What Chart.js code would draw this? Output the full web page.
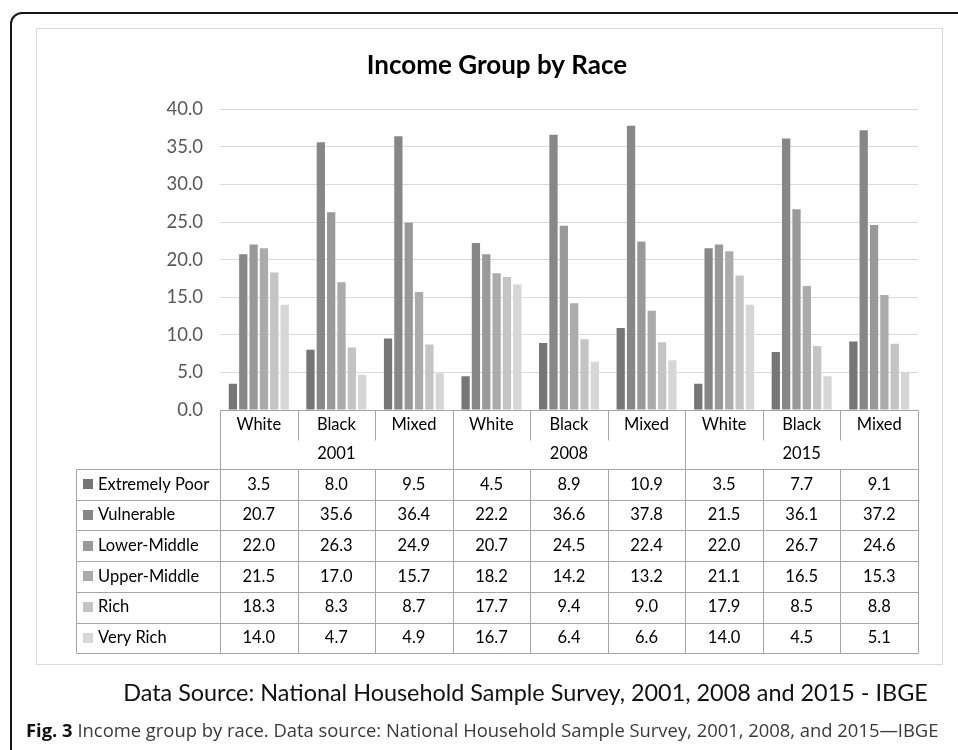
<!DOCTYPE html>
<html>
<head>
<meta charset="utf-8">
<script src="https://cdn.jsdelivr.net/npm/chart.js@4.4.1/dist/chart.umd.min.js"></script>
<style>
  html, body { margin: 0; padding: 0; background: #fff; }
  body { width: 958px; height: 750px; position: relative; overflow: hidden; }
  .frame { position: absolute; left: 10px; top: 12px; width: 1000px; height: 800px;
           border: 2px solid #161616; border-radius: 12px; box-sizing: border-box; }
  .plotbox { position: absolute; left: 36px; top: 28px; width: 907px; height: 637px;
             border: 1px solid #d9d9d9; box-sizing: border-box; }
  #chart { position: absolute; left: 0; top: 0; }
  .source { position: absolute; left: 0; width: 1051px; top: 678px; text-align: center;
            font-family: Lato, sans-serif; font-size: 23.4px; color: #111; }
  .caption { position: absolute; left: 26px; top: 717px; white-space: nowrap;
             font-family: "Open Sans", sans-serif; font-size: 18.4px; color: #3a3a3a; }
  .caption b { color: #111; }
</style>
</head>
<body>
<div class="frame"></div>
<div class="plotbox"></div>
<canvas id="chart" width="958" height="750"></canvas>
<div class="source">Data Source: National Household Sample Survey, 2001, 2008 and 2015 - IBGE</div>
<div class="caption"><b>Fig. 3</b> Income group by race. Data source: National Household Sample Survey, 2001, 2008, and 2015—IBGE</div>
<script>
const races = ['White', 'Black', 'Mixed', 'White', 'Black', 'Mixed', 'White', 'Black', 'Mixed'];
const years = ['2001', '2008', '2015'];
const groups = ['Extremely Poor', 'Vulnerable', 'Lower-Middle', 'Upper-Middle', 'Rich', 'Very Rich'];

const extremelyPoor = [3.5, 8.0, 9.5, 4.5, 8.9, 10.9, 3.5, 7.7, 9.1];
const vulnerable    = [20.7, 35.6, 36.4, 22.2, 36.6, 37.8, 21.5, 36.1, 37.2];
const lowerMiddle   = [22.0, 26.3, 24.9, 20.7, 24.5, 22.4, 22.0, 26.7, 24.6];
const upperMiddle   = [21.5, 17.0, 15.7, 18.2, 14.2, 13.2, 21.1, 16.5, 15.3];
const rich          = [18.3, 8.3, 8.7, 17.7, 9.4, 9.0, 17.9, 8.5, 8.8];
const veryRich      = [14.0, 4.7, 4.9, 16.7, 6.4, 6.6, 14.0, 4.5, 5.1];

const seriesValues = [extremelyPoor, vulnerable, lowerMiddle, upperMiddle, rich, veryRich];
const seriesColors = ['#767676', '#878787', '#999999', '#ababab', '#c4c4c4', '#d6d6d6'];

const lineColor = '#a6a6a6';
const tableFont = '16.5px Lato, sans-serif';

// draws the data table under the plot, lined up with the x scale
const dataTable = {
  id: 'dataTable',
  afterDraw(chart) {
    const ctx = chart.ctx;
    const area = chart.chartArea;
    const x = chart.scales.x;
    const catW = (area.right - area.left) / races.length;
    const edge = i => x.getPixelForValue(i) - catW / 2;
    const top = area.bottom;
    const raceBottom = top + 30;
    const rowTop = top + 59;
    const rowH = 30.7;
    const tableBottom = rowTop + rowH * groups.length;
    const tableLeft = 76;

    ctx.save();
    ctx.strokeStyle = lineColor;
    ctx.lineWidth = 1;
    const line = (x1, y1, x2, y2) => {
      ctx.beginPath();
      ctx.moveTo(Math.round(x1) + 0.5, Math.round(y1) + 0.5);
      ctx.lineTo(Math.round(x2) + 0.5, Math.round(y2) + 0.5);
      ctx.stroke();
    };

    line(area.left, top, area.right, top);
    for (let r = 0; r <= groups.length; r++) {
      const y = rowTop + r * rowH;
      line(tableLeft, y, area.right, y);
    }
    line(tableLeft, rowTop, tableLeft, tableBottom);
    line(area.left, top, area.left, tableBottom);
    line(area.right, top, area.right, tableBottom);
    for (let i = 1; i < races.length; i++) {
      const xe = edge(i);
      if (i % 3 === 0) {
        line(xe, top, xe, tableBottom);
      } else {
        line(xe, top, xe, raceBottom);
        line(xe, rowTop, xe, tableBottom);
      }
    }

    ctx.fillStyle = '#000';
    ctx.font = tableFont;
    ctx.textAlign = 'center';
    ctx.textBaseline = 'middle';
    races.forEach((r, i) => ctx.fillText(r, x.getPixelForValue(i), top + 15));
    years.forEach((yr, k) => ctx.fillText(yr, x.getPixelForValue(k * 3 + 1), top + 44));

    groups.forEach((g, r) => {
      const cy = rowTop + r * rowH + rowH / 2;
      seriesValues[r].forEach((v, i) => {
        ctx.fillText(v.toFixed(1), x.getPixelForValue(i), cy);
      });
      ctx.fillStyle = seriesColors[r];
      ctx.fillRect(83, Math.round(cy - 5), 10, 10);
      ctx.fillStyle = '#000';
      ctx.textAlign = 'left';
      ctx.fillText(g, 98, cy);
      ctx.textAlign = 'center';
    });
    ctx.restore();
  }
};

new Chart(document.getElementById('chart'), {
  type: 'bar',
  data: {
    labels: races,
    datasets: groups.map((g, i) => ({
      label: g,
      data: seriesValues[i],
      backgroundColor: seriesColors[i],
      borderWidth: 0,
      categoryPercentage: 0.8,
      barPercentage: 0.8
    }))
  },
  options: {
    responsive: false,
    animation: false,
    layout: { padding: { left: 76, right: 40, top: 38, bottom: 340 } },
    plugins: {
      legend: { display: false },
      tooltip: { enabled: false },
      title: {
        display: true,
        text: 'Income Group by Race',
        color: '#000',
        font: { family: 'Lato', size: 26, weight: 'bold' },
        padding: { top: 12, bottom: 28 }
      }
    },
    scales: {
      x: { display: false },
      y: {
        min: 0,
        max: 40,
        afterFit(scale) { scale.width = 144; },
        ticks: {
          stepSize: 5,
          padding: 17,
          color: '#595959',
          font: { family: 'Lato', size: 18.5 },
          callback: v => v.toFixed(1)
        },
        grid: { color: '#d9d9d9', drawTicks: false },
        border: { display: false }
      }
    }
  },
  plugins: [dataTable]
});
</script>
</body>
</html>
